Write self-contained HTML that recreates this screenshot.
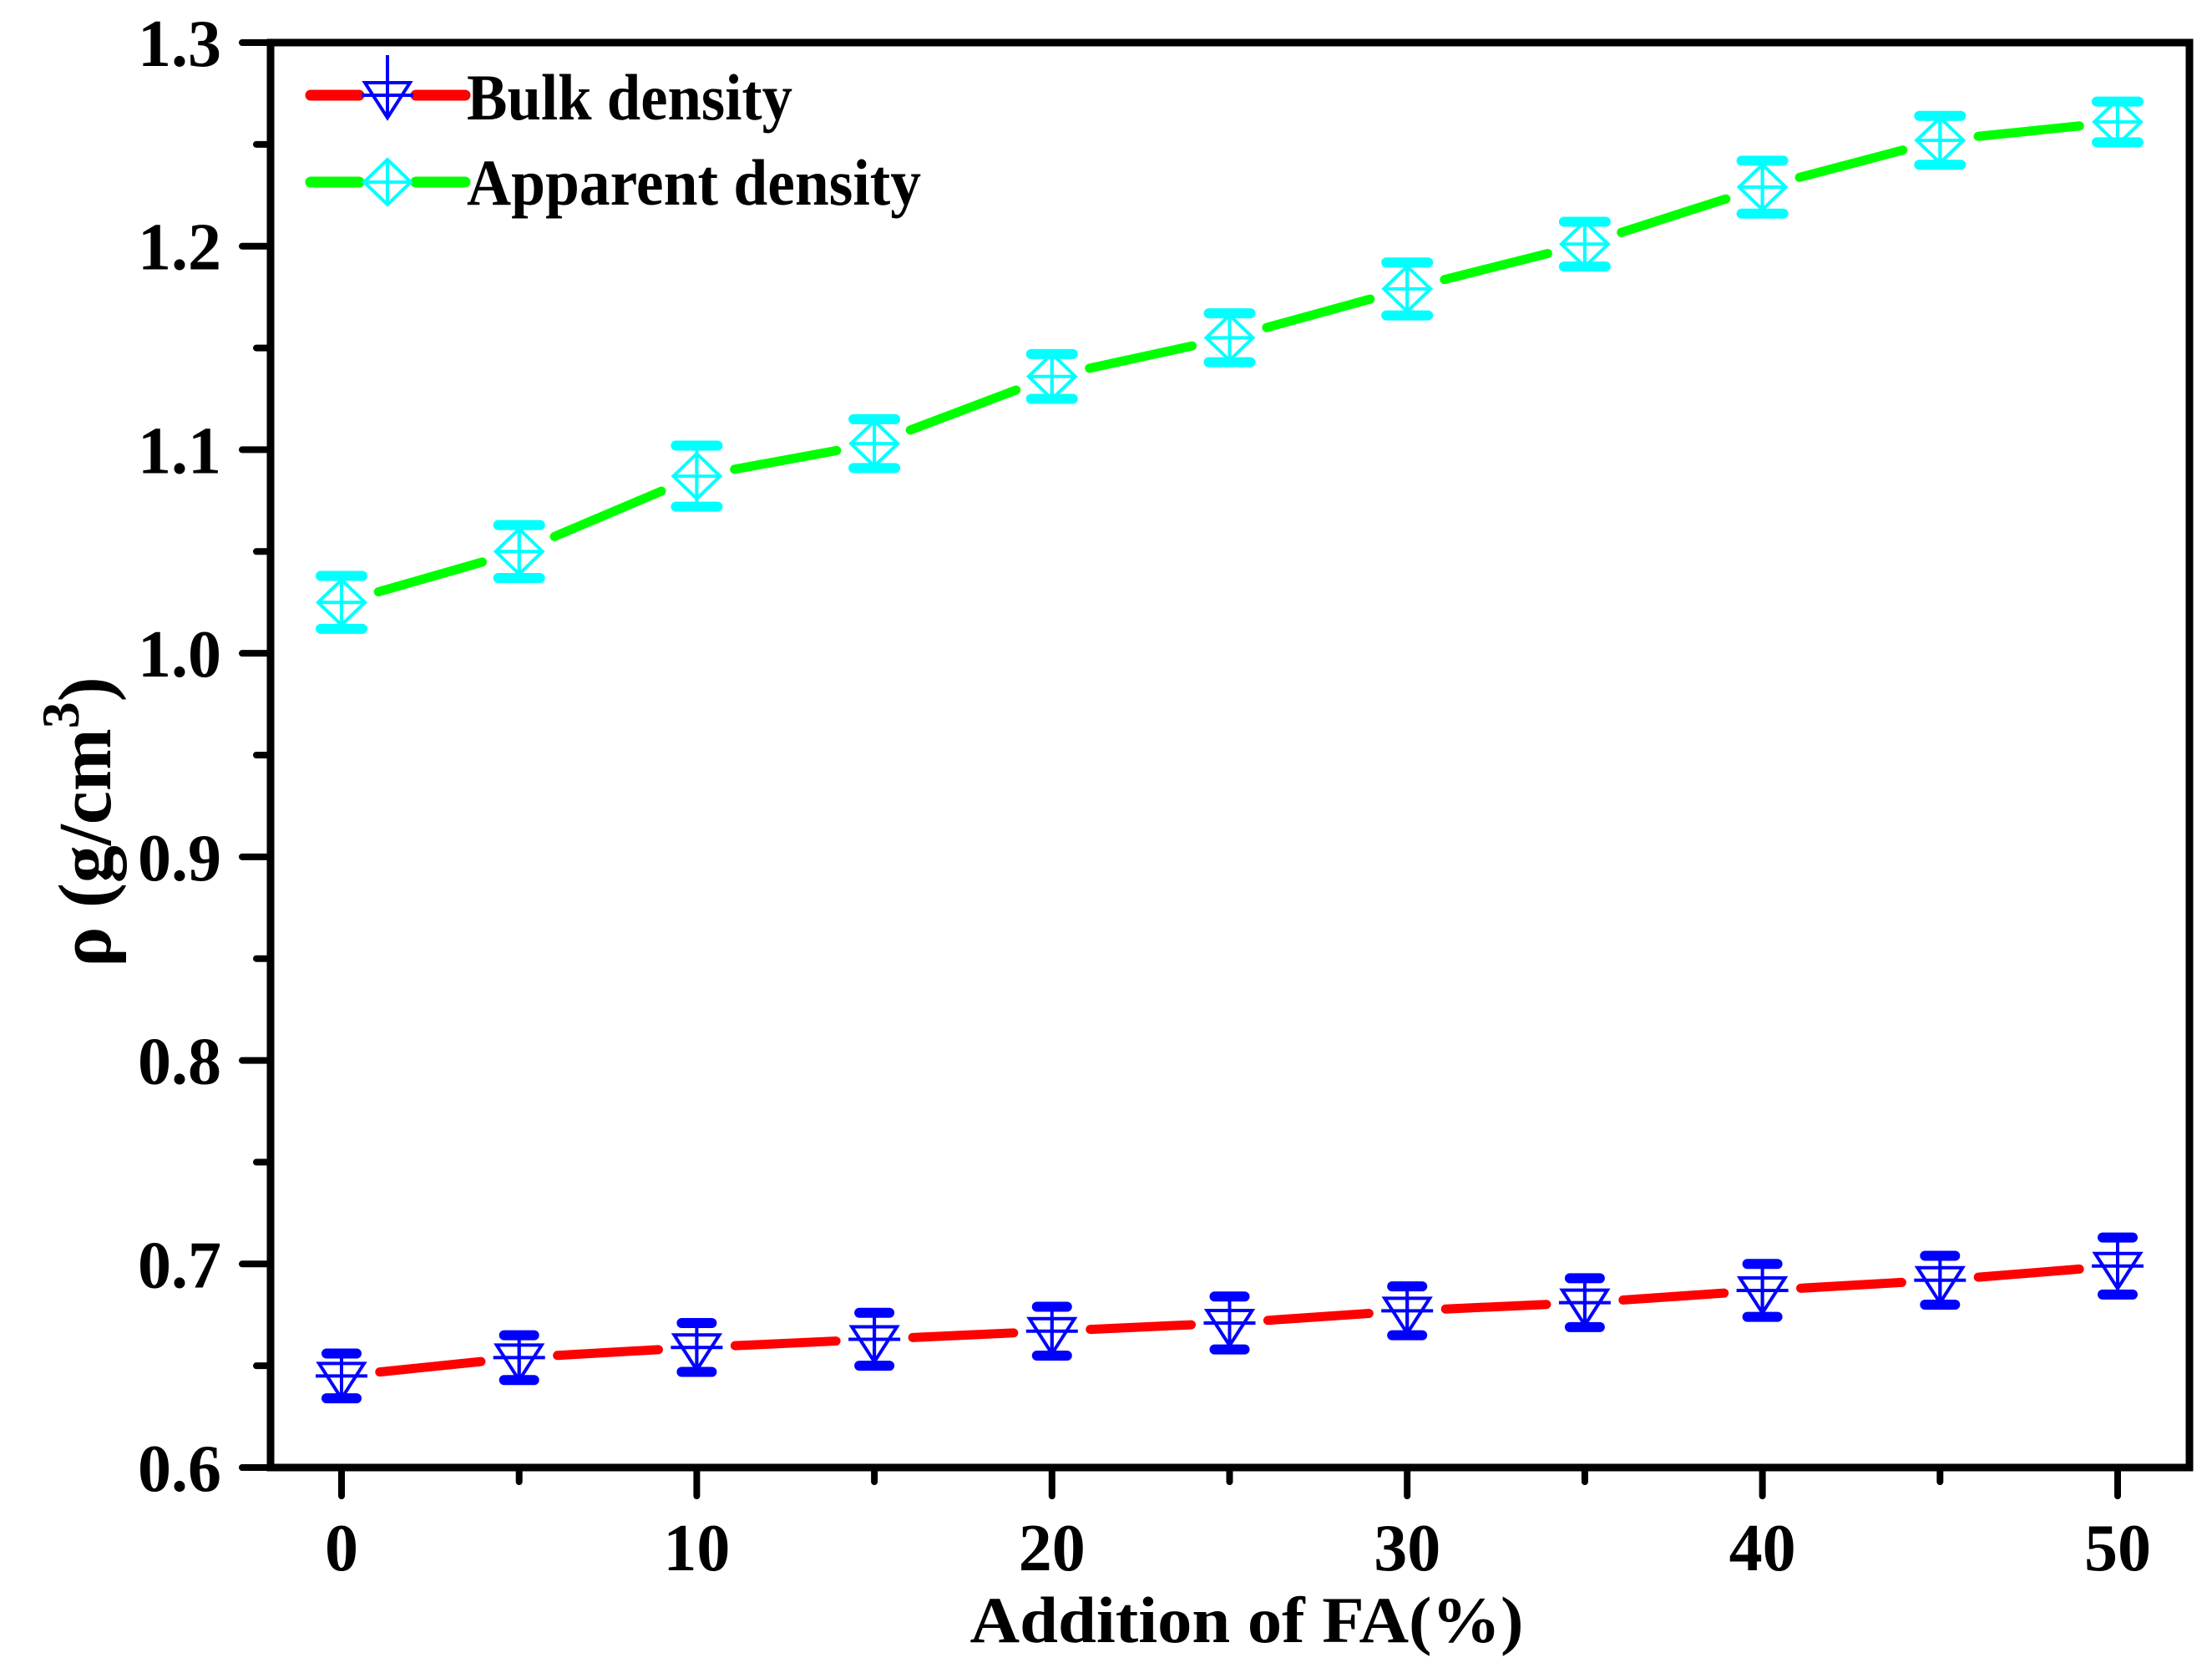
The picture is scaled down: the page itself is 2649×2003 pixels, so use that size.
<!DOCTYPE html>
<html><head><meta charset="utf-8"><style>
html,body{margin:0;padding:0;background:#fff;}
svg{display:block;}
text{font-family:"Liberation Serif","Times New Roman",serif;font-weight:bold;fill:#000;}
</style></head><body>
<svg id="chart" width="2649" height="2003" viewBox="0 0 2649 2003" xmlns="http://www.w3.org/2000/svg">
<g id="axes"></g>
<g id="series"></g>
<g id="legend"></g>
<text x="1493" y="1966" font-size="78" text-anchor="middle" textLength="663" lengthAdjust="spacingAndGlyphs">Addition of FA(%)</text>
<text transform="translate(132,984) rotate(-90)" font-size="90" text-anchor="middle">ρ (g/cm<tspan dy="-38" font-size="64">3</tspan><tspan dy="38">)</tspan></text>
</svg>
<script>
const xCats = [0,5,10,15,20,25,30,35,40,45,50];
const xTickLabels = ["0","10","20","30","40","50"];
const xTickValues = [0,10,20,30,40,50];
const yTickValues = [0.6,0.7,0.8,0.9,1.0,1.1,1.2,1.3];
const yTickLabels = ["0.6","0.7","0.8","0.9","1.0","1.1","1.2","1.3"];
const apparent = [1.025,1.050,1.087,1.103,1.136,1.155,1.179,1.201,1.229,1.252,1.261];
const apparentErr = [0.013,0.013,0.015,0.012,0.011,0.012,0.013,0.011,0.013,0.012,0.010];
const bulk = [0.645,0.654,0.659,0.663,0.667,0.671,0.677,0.681,0.687,0.692,0.699];
const bulkErr = [0.011,0.011,0.012,0.013,0.012,0.013,0.012,0.012,0.013,0.012,0.014];

const NS="http://www.w3.org/2000/svg";
const L=324,R=2622,T=51,B=1757;
const X=v=>409+(v-0)*(2536-409)/50;
const Y=v=>B-(v-0.6)*(B-T)/0.7;
function mk(tag,attrs,parent){const e=document.createElementNS(NS,tag);for(const k in attrs)e.setAttribute(k,attrs[k]);parent.appendChild(e);return e;}
const axes=document.getElementById('axes');
const fr=mk('rect',{x:L,y:T,width:R-L,height:B-T,fill:'none',stroke:'#000','stroke-width':9},axes);


for(let v=0.6;v<=1.3001;v+=0.05){
  const major=Math.abs(Math.round(v*10)-v*10)<1e-6;
  const y=Y(v);
  const t=mk('line',{x1:L,x2:L-(major?34:17),y1:y,y2:y,stroke:'#000','stroke-width':8,'stroke-linecap':'round'},axes);
  
  
}
yTickValues.forEach((v,i)=>{
  const t=mk('text',{x:265,y:Y(v)+28,'font-size':80,'text-anchor':'end'},axes);
  t.textContent=yTickLabels[i];
  
  
});
xCats.forEach(v=>{
  const major=v%10===0;
  const t=mk('line',{x1:X(v),x2:X(v),y1:B,y2:B+(major?34:17),stroke:'#000','stroke-width':8,'stroke-linecap':'round'},axes);
  
  
});
xTickValues.forEach((v,i)=>{
  const t=mk('text',{x:X(v),y:1880,'font-size':80,'text-anchor':'middle'},axes);
  t.textContent=xTickLabels[i];
  
  
});
const series=document.getElementById('series');
function brokenLine(xs,ys,color,gap,parent){
  for(let i=0;i<xs.length-1;i++){
    const x1=X(xs[i]),y1=Y(ys[i]),x2=X(xs[i+1]),y2=Y(ys[i+1]);
    const d=Math.hypot(x2-x1,y2-y1),ux=(x2-x1)/d,uy=(y2-y1)/d;
    const s=mk('line',{x1:x1+ux*gap,y1:y1+uy*gap,x2:x2-ux*gap,y2:y2-uy*gap,stroke:color,'stroke-width':11,'stroke-linecap':'round'},parent);
    
    
  }
}
function errBar(x,y,yl,yh,color,w,parent){
  const g=mk('g',{},parent);
  
  
  mk('line',{x1:x,x2:x,y1:yh,y2:yl,stroke:color,'stroke-width':4},g);
  mk('line',{x1:x-w/2+6,x2:x+w/2-6,y1:yh,y2:yh,stroke:color,'stroke-width':12,'stroke-linecap':'round'},g);
  mk('line',{x1:x-w/2+6,x2:x+w/2-6,y1:yl,y2:yl,stroke:color,'stroke-width':12,'stroke-linecap':'round'},g);
}
function diamond(x,y,parent){
  const g=mk('g',{fill:'none',stroke:'#00ffff','stroke-width':4},parent);
  
  
  mk('polygon',{points:`${x},${y-27} ${x+28},${y} ${x},${y+27} ${x-28},${y}`},g);
  mk('line',{x1:x-28,x2:x+28,y1:y,y2:y},g);
  mk('line',{x1:x,x2:x,y1:y-27,y2:y+27},g);
}
function tri(x,y,parent,vlen){
  const g=mk('g',{fill:'none',stroke:'#0000ff','stroke-width':4},parent);
  
  
  mk('polygon',{points:`${x-27},${y-15} ${x+27},${y-15} ${x},${y+27}`},g);
  mk('line',{x1:x-31,x2:x+31,y1:y,y2:y},g);
  mk('line',{x1:x,x2:x,y1:y-vlen,y2:y+27},g);
}
brokenLine(xCats,apparent,'#00ff00',46,series);
xCats.forEach((v,i)=>{
  errBar(X(v),Y(apparent[i]),Y(apparent[i]-apparentErr[i]),Y(apparent[i]+apparentErr[i]),'#00ffff',62,series);
  diamond(X(v),Y(apparent[i]),series);
});
brokenLine(xCats,bulk,'#ff0000',46,series);
xCats.forEach((v,i)=>{
  errBar(X(v),Y(bulk[i]),Y(bulk[i]-bulkErr[i]),Y(bulk[i]+bulkErr[i]),'#0000ff',48,series);
  tri(X(v),Y(bulk[i]),series,15);
});
const lg=document.getElementById('legend');
[[114,'#ff0000','Bulk density',143,390],[218,'#00ff00','Apparent density',245,544]].forEach((r,k)=>{
  const g=mk('g',{},lg);
  
  
  mk('line',{x1:372,x2:430,y1:r[0],y2:r[0],stroke:r[1],'stroke-width':13,'stroke-linecap':'round'},g);
  mk('line',{x1:498,x2:557,y1:r[0],y2:r[0],stroke:r[1],'stroke-width':13,'stroke-linecap':'round'},g);
  if(k===0)tri(464,r[0],g,48); else diamond(464,r[0],g);
  const t=mk('text',{x:559,y:r[3],'font-size':78,textLength:r[4],lengthAdjust:'spacingAndGlyphs'},g);
  t.textContent=r[2];
});
</script>
</body></html>
